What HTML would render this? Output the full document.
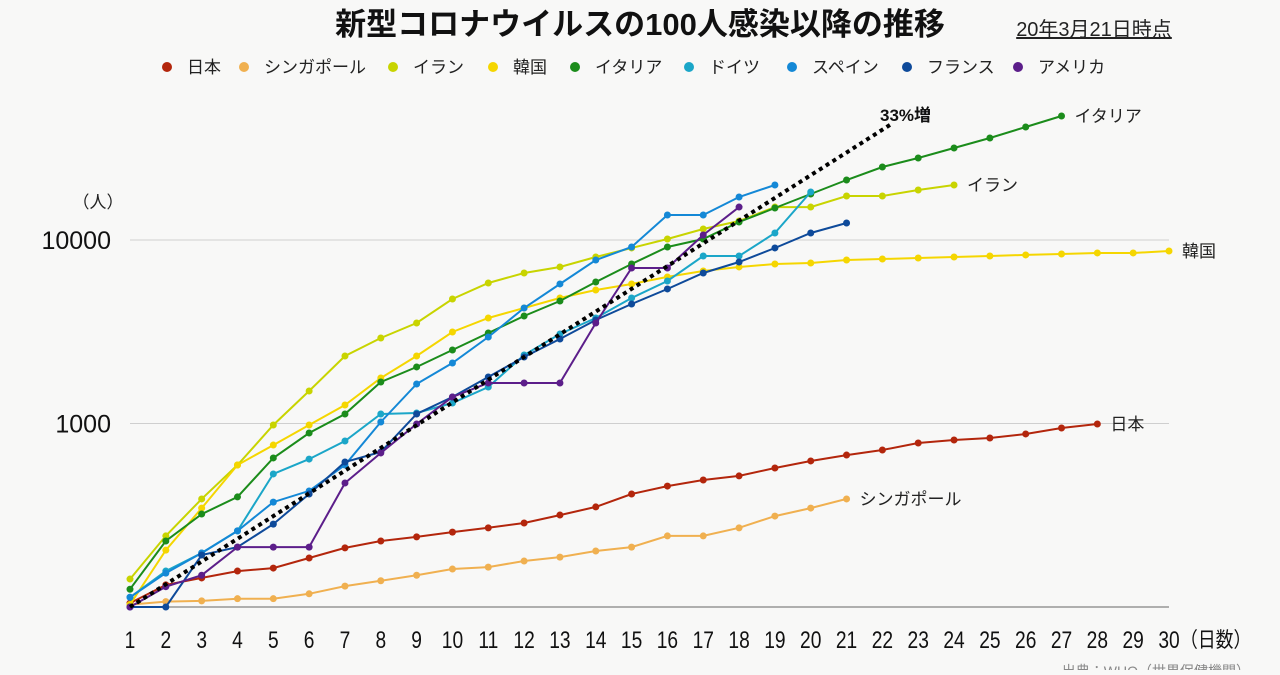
<!DOCTYPE html>
<html><head><meta charset="utf-8"><style>
body{margin:0;background:#f8f8f7;font-family:"Liberation Sans","Noto Sans CJK JP",sans-serif;}
svg text{font-family:"Liberation Sans","Noto Sans CJK JP",sans-serif;}
</style></head><body>
<svg id="c" width="1280" height="670" xmlns="http://www.w3.org/2000/svg">
<rect width="1280" height="670" fill="#f8f8f7"/>
<text x="640" y="35" text-anchor="middle" font-size="31" font-weight="bold" fill="#111">新型コロナウイルスの100人感染以降の推移</text>
<text x="1094" y="36" text-anchor="middle" font-size="20" fill="#222" text-decoration="underline">20年3月21日時点</text>
<g id="legend"></g>
<text x="98" y="208" text-anchor="middle" font-size="17" fill="#222">（人）</text>
<g id="plot"></g>
<text x="1250" y="676" text-anchor="end" font-size="14" fill="#888">出典：WHO（世界保健機関）</text>
</svg>
<script>
const days = [1,2,3,4,5,6,7,8,9,10,11,12,13,14,15,16,17,18,19,20,21,22,23,24,25,26,27,28,29,30];
const yTicks = [1000, 10000];
const yTickLabels = ["1000", "10000"];
const names = ["日本","シンガポール","イラン","韓国","イタリア","ドイツ","スペイン","フランス","アメリカ"];
const keys = ["japan","singapore","iran","korea","italy","germany","spain","france","usa"];
const colors = ["#b3260c","#f0b050","#c8d400","#f5d600","#1b8c1b","#1ba6c8","#1488d6","#0e4a9a","#5c1e8a"];
const japan = [105,132,144,157,163,185,210,229,241,256,270,287,317,351,413,456,492,518,572,625,673,717,783,813,834,877,945,994];
const singapore = [103,107,108,111,111,118,130,139,149,161,165,178,187,202,212,244,244,270,313,346,388];
const iran = [142,244,388,594,981,1503,2332,2924,3530,4770,5830,6610,7130,8080,9050,10130,11480,12690,15120,15120,17370,17370,18730,19940];
const korea = [103,204,346,594,763,981,1261,1770,2332,3152,3758,4260,4830,5340,5760,6290,6780,7130,7400,7490,7780,7880,7980,8080,8180,8290,8390,8500,8500,8710];
const italy = [125,229,321,398,649,888,1127,1683,2033,2515,3113,3853,4650,5905,7400,9160,10130,12530,14940,17810,21230,25000,27990,31730,35960,41290,47400];
const germany = [113,157,197,260,531,640,803,1127,1141,1293,1581,2362,3074,3758,4830,5980,8180,8180,10920,18260];
const spain = [113,153,197,260,373,429,594,1019,1642,2136,2960,4260,5760,7780,9160,13680,13680,17150,19940];
const france = [100,100,192,212,283,413,617,699,1127,1394,1792,2304,2887,3664,4480,5410,6610,7590,9050,10920,12380];
const usa = [100,129,149,212,212,212,474,691,994,1394,1662,1662,1662,3530,7040,7040,10650,15120];
const series = [japan,singapore,iran,korea,italy,germany,spain,france,usa];
const endLabels = {"japan":"日本","singapore":"シンガポール","iran":"イラン","korea":"韓国","italy":"イタリア"};
const growthRate = 1.33;
const growthEndDay = 22.3;

const NS="http://www.w3.org/2000/svg";
const X0=130, DX=(1169-130)/29, Y100=607, DEC=183.5;
function xs(d){return X0+(d-1)*DX;}
function ys(v){return Y100-DEC*(Math.log10(v)-2);}
function mk(tag,attrs,parent){const e=document.createElementNS(NS,tag);for(const k in attrs)e.setAttribute(k,attrs[k]);parent.appendChild(e);return e;}
const plot=document.getElementById('plot');
yTicks.forEach((t,i)=>{
  const g=mk('line',{x1:130,x2:1169,y1:ys(t),y2:ys(t),stroke:'#cfcfcf','stroke-width':1},plot);
  
  
  const l=mk('text',{x:111,y:ys(t)+9,'text-anchor':'end','font-size':25,fill:'#111'},plot);
  l.textContent=yTickLabels[i];
  
  
});
const ax=mk('line',{x1:130,x2:1169,y1:Y100,y2:Y100,stroke:'#666','stroke-width':1},plot);


days.forEach(d=>{
  const t=mk('text',{x:0,y:0,'text-anchor':'middle','font-size':24,fill:'#111',transform:'translate('+xs(d)+',648) scale(0.8,1)'},plot);
  t.textContent=d;
  
  
});
const xu=mk('text',{x:0,y:0,'font-size':21,fill:'#111',transform:'translate(1180,647) scale(0.85,1)'},plot);
xu.textContent='（日数）';


series.forEach((s,i)=>{
  const g=mk('g',{},plot);
  
  
  const pts=s.map((v,j)=>xs(days[j]).toFixed(1)+','+ys(v).toFixed(1)).join(' ');
  const pl=mk('polyline',{points:pts,fill:'none',stroke:colors[i],'stroke-width':2},g);
  
  
  s.forEach((v,j)=>{
    const c=mk('circle',{cx:xs(days[j]),cy:ys(v),r:3.5,fill:colors[i]},g);
    
    
  });
  if(endLabels[keys[i]]){
    const last=s.length;
    const t=mk('text',{x:xs(last)+13,y:ys(s[last-1])+6,'font-size':17,fill:'#222'},g);
    t.textContent=endLabels[keys[i]];
    
    
  }
});
const gpts=[];
for(let d=1;d<=growthEndDay+0.001;d+=0.1){gpts.push(xs(d).toFixed(1)+','+ys(100*Math.pow(growthRate,d-1)).toFixed(1));}
const gl=mk('polyline',{points:gpts.join(' '),fill:'none',stroke:'#000','stroke-width':4,'stroke-dasharray':'4 4'},plot);


const gt=mk('text',{x:880,y:121,'font-size':17,'font-weight':'bold',fill:'#111'},plot);
gt.textContent='33%増';


const leg=document.getElementById('legend');
const legX=[167,244,393,493,575,689,792,907,1018];
names.forEach((n,i)=>{
  const g=mk('g',{},leg);
  
  
  mk('circle',{cx:legX[i],cy:67,r:5,fill:colors[i]},g);
  const t=mk('text',{x:legX[i]+20,y:73,'font-size':17,fill:'#222'},g);
  t.textContent=n;
});
</script>
</body></html>
